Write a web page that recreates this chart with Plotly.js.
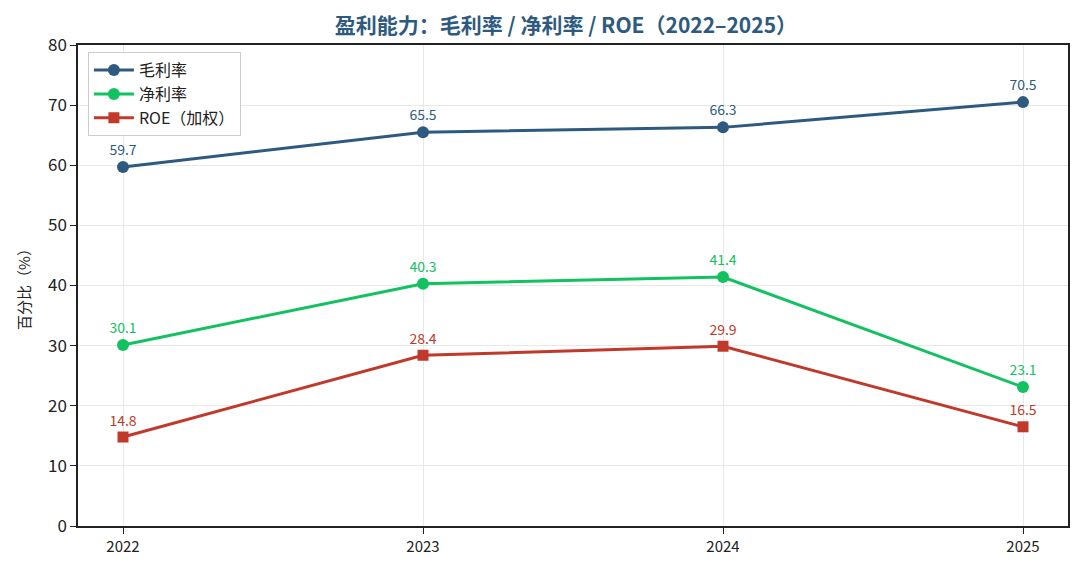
<!DOCTYPE html>
<html>
<head>
<meta charset="utf-8">
<script src="https://cdn.plot.ly/plotly-3.0.1.min.js"></script>
<style>html,body{margin:0;padding:0;background:#fff;}#chart{width:1080px;height:573px;}</style>
</head>
<body>
<div id="chart"></div>
<script>
var years = ['2022', '2023', '2024', '2025'];
var grossMargin = [59.7, 65.5, 66.3, 70.5];
var netMargin = [30.1, 40.3, 41.4, 23.1];
var roe = [14.8, 28.4, 29.9, 16.5];

var FONT = '"Noto Sans CJK SC", "Noto Sans", sans-serif';

function series(name, y, color, symbol) {
    return {
        type: 'scatter',
        mode: 'lines+markers+text',
        name: name,
        x: [0, 1, 2, 3],
        y: y,
        text: y.map(function (v) { return v.toFixed(1); }),
        textposition: 'top center',
        textfont: {family: FONT, size: 14, color: color},
        line: {color: color, width: 3},
        marker: {color: color, size: symbol === 'square' ? 11 : 12, symbol: symbol},
        cliponaxis: false
    };
}

var data = [
    series('毛利率', grossMargin, '#2e5a80', 'circle'),
    series('净利率', netMargin, '#12c15f', 'circle'),
    series('ROE（加权）', roe, '#c0392b', 'square')
];

var layout = {
    width: 1080,
    height: 573,
    paper_bgcolor: '#ffffff',
    plot_bgcolor: '#ffffff',
    font: {family: FONT, size: 14, color: '#222'},
    title: {
        text: '<b>盈利能力：毛利率 / 净利率 / ROE（2022–2025）</b>',
        x: 0.524, xanchor: 'center', y: 0.955, yanchor: 'middle',
        font: {family: FONT, size: 21, color: '#2e5a80'}
    },
    margin: {l: 78, r: 12, t: 45, b: 47},
    showlegend: true,
    legend: {
        x: 0.01, y: 0.985, xanchor: 'left', yanchor: 'top',
        bgcolor: 'rgba(255,255,255,0.9)',
        bordercolor: '#cccccc', borderwidth: 1,
        font: {family: FONT, size: 16, color: '#222'},
        itemwidth: 40
    },
    xaxis: {
        range: [-0.15, 3.15],
        tickmode: 'array',
        tickvals: [0, 1, 2, 3],
        ticktext: years,
        showgrid: true, gridcolor: '#e8e8e8', gridwidth: 1,
        zeroline: false,
        showline: true, linecolor: '#222', linewidth: 1.5, mirror: true,
        ticks: 'outside', ticklen: 6, tickcolor: '#222',
        tickfont: {family: FONT, size: 15, color: '#222'}
    },
    yaxis: {
        range: [0, 80],
        dtick: 10,
        showgrid: true, gridcolor: '#e8e8e8', gridwidth: 1,
        zeroline: false,
        showline: true, linecolor: '#222', linewidth: 1.5, mirror: true,
        ticks: 'outside', ticklen: 6, tickcolor: '#222',
        tickfont: {family: FONT, size: 17, color: '#222'},
        title: {text: '百分比（%）', standoff: 14, font: {family: FONT, size: 15, color: '#222'}}
    }
};

Plotly.newPlot('chart', data, layout, {displayModeBar: false, responsive: false});
</script>
</body>
</html>
